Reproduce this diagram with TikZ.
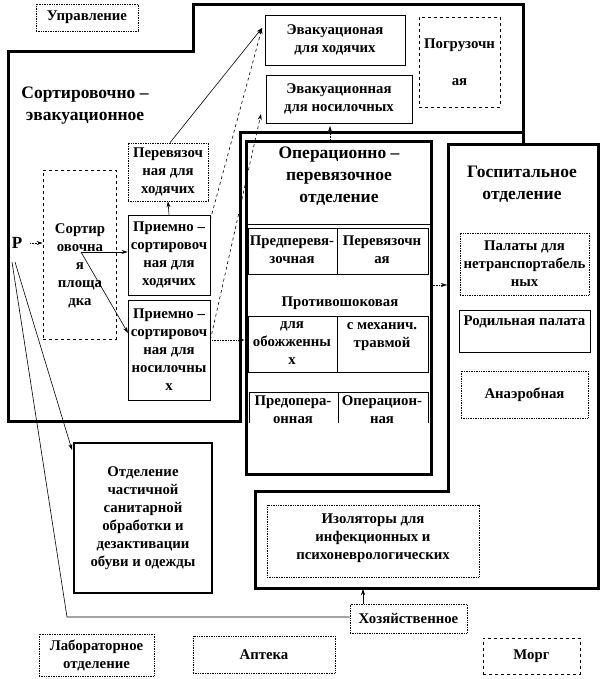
\documentclass[tikz,border=0pt]{standalone}
\usepackage{fontspec}
\setmainfont{Liberation Serif}
\usetikzlibrary{arrows.meta}
\newcommand\fsz{\fontsize{14.8}{18}\selectfont\bfseries}
\newcommand\ftz{\fontsize{17.5}{22}\selectfont\bfseries}
\begin{document}
\begin{tikzpicture}[x=1pt,y=-1pt,
  bx/.style={draw, line width=0.7pt, align=center, font=\fsz, inner sep=0pt},
  dbx/.style={bx, dashed},
  obx/.style={bx, densely dotted},
  thickbx/.style={bx, line width=2.6pt},
  region/.style={line width=3pt},
  lbl/.style={align=center, font=\fsz, inner sep=0pt},
  ttl/.style={align=center, font=\ftz, inner sep=0pt},
  con/.style={line width=0.6pt, -{Stealth[length=6pt,width=4pt]}},
  dcon/.style={con, densely dotted},
  ln/.style={line width=0.6pt}]
\useasboundingbox (0,0) rectangle (601,679);
\fill[white] (0,0) rectangle (601,679);

% regions
\draw[region] (8,52) -- (193,52) -- (193,5) -- (523,5) -- (523,133) -- (240,133) -- (240,421) -- (8,421) -- cycle;
\draw[region] (523,133) -- (523,145);
\draw[region] (448,145) -- (598,145) -- (598,588) -- (255,588) -- (255,491) -- (448,491) -- cycle;

% top
\node[obx, minimum width=102pt, minimum height=27pt] (upr) at (87,17.5) {Управление};
\node[bx, minimum width=140pt, minimum height=50pt] (evh) at (335,40) {Эвакуационая\\для ходячих};
\node[bx, minimum width=146pt, minimum height=48pt] (evn) at (339,99) {Эвакуационная\\для носилочных};
\node[dbx, minimum width=81pt, minimum height=90pt] (pogr) at (459.5,62) {Погрузочн\\[19pt]ая};
\node[ttl] (sortttl) at (85,106) {Сортировочно –\\эвакуационное};

% sorting
\node[font=\fontsize{17}{20}\selectfont\bfseries, inner sep=0pt] (P) at (17,243) {Р};
\node[dbx, minimum width=73pt, minimum height=169pt] (sortp) at (79.5,254.5) {};
\node[lbl] (sortt) at (80,266) {Сортир\\овочна\\я\\площа\\дка};
\coordinate (sc) at (81,252);
\node[obx, minimum width=80pt, minimum height=58pt] (perv) at (168,172) {Перевязоч\\ная для\\ходячих};
\node[bx, minimum width=82pt, minimum height=80pt] (prh) at (169,255) {Приемно –\\сортировоч\\ная для\\ходячих};
\node[bx, minimum width=82pt, minimum height=100pt] (prn) at (169,350) {Приемно –\\сортировоч\\ная для\\носилочны\\х};

% operational
\node[draw, line width=3pt, minimum width=185pt, minimum height=332pt, inner sep=0pt] (op) at (338.5,308) {};
\node[ttl] (opttl) at (339,176) {Операционно –\\перевязочное\\отделение};
\draw[ln] (246,224) -- (431,224);
\draw[ln] (248,228) rectangle (428,274); \draw[ln] (337,228) -- (337,274);
\node[lbl] (c11) at (292,250) {Предперевя-\\зочная};
\node[lbl] (c12) at (382,250) {Перевязочн\\ая};
\node[lbl] (anti) at (340,303) {Противошоковая};
\draw[ln] (248,316) rectangle (428,372); \draw[ln] (337,316) -- (337,372);
\node[lbl, anchor=north] (c21) at (292,322) {для\\обожженны\\х};
\node[lbl, anchor=north] (c22) at (382,322) {с механич.\\травмой};
\draw[ln] (249,423) -- (249,392) -- (428,392) -- (428,423); \draw[ln] (338,392) -- (338,423);
\node[lbl] (c31) at (293,410) {Предопера-\\онная};
\node[lbl] (c32) at (382,410) {Операцион-\\ная};

% hospital
\node[ttl] (hosttl) at (522,184) {Госпитальное\\отделение};
\node[obx, minimum width=129pt, minimum height=62pt] (pal) at (524.5,264) {Палаты для\\нетранспортабель\\ных};
\node[bx, minimum width=131pt, minimum height=42pt] (rod) at (524.5,331) {};
\node[lbl] (rodt) at (524.5,322) {Родильная палата};
\node[obx, minimum width=127pt, minimum height=47pt] (anae) at (524.5,394.5) {Анаэробная};
\node[obx, minimum width=212pt, minimum height=72pt] (izo) at (373,541) {};
\node[lbl] (izot) at (373,538) {Изоляторы для\\инфекционных и\\психоневрологических};

% bottom
\node[thickbx, minimum width=138pt, minimum height=150pt] (sanit) at (143,518) {Отделение\\частичной\\санитарной\\обработки и\\дезактивации\\обуви и одежды};
\node[obx, minimum width=117pt, minimum height=29pt] (hoz) at (408.5,618.5) {Хозяйственное};
\node[obx, minimum width=115pt, minimum height=42pt] (lab) at (96.5,655) {Лабораторное\\отделение};
\node[obx, minimum width=142pt, minimum height=37pt] (apt) at (264,654.5) {Аптека};
\node[dbx, minimum width=97pt, minimum height=36pt] (morg) at (531.5,656) {Морг};

% connectors
\coordinate (Pout1) at (12,262);
\coordinate (Pout2) at (15,262);
\coordinate (bend) at (67,617);
\coordinate (evhpt) at (262,28);
\coordinate (evnpt) at (261,114);
\coordinate (hosin) at (447,285);
\coordinate (opn) at (330,141);
\coordinate (evnb) at (330,126);
\coordinate (hozup) at (363,589);
\draw[dcon] (30,243) -- (sortp.west |- 0,243);
\draw[con] (sc) -- (prh.west |- sc);
\draw[con] (sc) -- (128,333);
\draw[con] (prh.north) -- (perv.south);
\draw[con] (perv.north) ++(2,0) -- (evhpt);
\draw[con, dashed] (prh.north east) ++(0,5) -- (evhpt);
\draw[con, dashed] (prn.east) ++(0,-10) -- (evnpt);
\draw[dcon] (prn.east) ++(0,-10) -- (op.west |- 0,340);
\draw[dcon] (op.east |- hosin) -- (hosin);
\draw[dcon] (opn) -- (evnb);
\draw[con] (Pout2) -- (72,450);
\draw[ln] (Pout1) -- (bend) -- (hoz.west |- bend);
\draw[con] (hoz.north -| hozup) -- (hozup);
\end{tikzpicture}
\end{document}
